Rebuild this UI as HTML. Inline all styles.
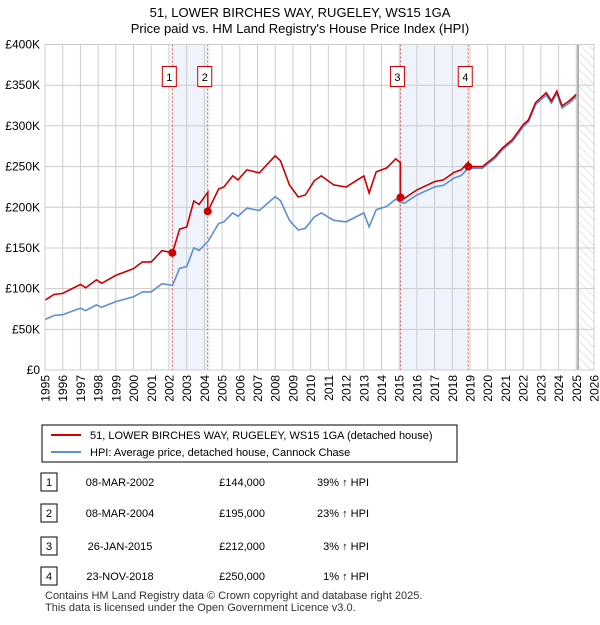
<!DOCTYPE html>
<html><head><meta charset="utf-8"><style>
body{margin:0;background:#fff;font-family:"Liberation Sans",sans-serif;}
#wrap{position:relative;width:600px;height:620px;}
</style></head><body><div id="wrap">
<svg id="svg" width="600" height="620" xmlns="http://www.w3.org/2000/svg" font-family="Liberation Sans, DejaVu Sans, sans-serif">
<defs><pattern id="hatch" width="6" height="6" patternUnits="userSpaceOnUse" patternTransform="rotate(-45)"><line x1="0" y1="0" x2="0" y2="6" stroke="#ccc" stroke-width="1"/></pattern></defs>
<text x="300" y="17" text-anchor="middle" font-size="13" fill="#000">51, LOWER BIRCHES WAY, RUGELEY, WS15 1GA</text>
<text x="300" y="33" text-anchor="middle" font-size="13" fill="#000">Price paid vs. HM Land Registry's House Price Index (HPI)</text>
<g id="plot"></g>
<g>
<rect x="42" y="425" width="415" height="37" fill="#fff" stroke="#000" stroke-width="1"/>
<line x1="51" y1="435" x2="81" y2="435" stroke="#cc0000" stroke-width="2"/>
<text x="90" y="439" font-size="11">51, LOWER BIRCHES WAY, RUGELEY, WS15 1GA (detached house)</text>
<line x1="51" y1="452" x2="81" y2="452" stroke="#5b8fd6" stroke-width="2"/>
<text x="90" y="456" font-size="11">HPI: Average price, detached house, Cannock Chase</text>
</g>
<g id="table" font-size="11"></g>
<text x="45" y="599" font-size="11" fill="#333">Contains HM Land Registry data © Crown copyright and database right 2025.</text>
<text x="45" y="611" font-size="11" fill="#333">This data is licensed under the Open Government Licence v3.0.</text>
</svg>
<script>
const hpiYears=[1995.0,1995.5,1996.0,1996.5,1997.0,1997.3,1997.9,1998.2,1999.0,2000.0,2000.5,2001.0,2001.6,2002.2,2002.6,2003.0,2003.4,2003.7,2004.2,2004.8,2005.1,2005.6,2005.9,2006.4,2007.1,2008.0,2008.3,2008.8,2009.3,2009.7,2010.2,2010.6,2011.3,2012.0,2013.0,2013.3,2013.7,2014.3,2014.8,2015.07,2015.3,2016.0,2017.0,2017.5,2018.1,2018.5,2018.9,2019.7,2020.4,2020.8,2021.4,2022.0,2022.3,2022.7,2023.3,2023.6,2023.9,2024.2,2024.6,2025.0];
const hpiValues=[62,67,68,72,76,73,80,77,84,90,96,96,106,104,125,127,150,147,158,180,182,193,189,199,196,213,208,184,172,174,188,193,184,182,193,176,197,201,210,206,205,215,225,227,236,239,248,248,260,270,281,299,305,326,338,328,340,322,328,336];
const saleYears=[2002.19,2004.19,2015.07,2018.9];
const salePrices=[144,195,212,250];
const saleDates=["08-MAR-2002","08-MAR-2004","26-JAN-2015","23-NOV-2018"];
const salePriceLabels=["£144,000","£195,000","£212,000","£250,000"];
const saleHpiLabels=["39% ↑ HPI","23% ↑ HPI","3% ↑ HPI","1% ↑ HPI"];
const yTicks=[0,50,100,150,200,250,300,350,400];
const yTickLabels=["£0","£50K","£100K","£150K","£200K","£250K","£300K","£350K","£400K"];
const xTicks=[];for(let y=1995;y<=2026;y++)xTicks.push(y);

const X0=45,X1=594,Y0=370,Y1=44.5;
const xs=t=>X0+(t-1995)/(2026-1995)*(X1-X0);
const ys=v=>Y0-v/400*(Y0-Y1);
const NS="http://www.w3.org/2000/svg";
const plot=document.getElementById('plot');
function mk(tag,attrs,parent){const e=document.createElementNS(NS,tag);for(const k in attrs)e.setAttribute(k,attrs[k]);(parent||plot).appendChild(e);return e;}
function hpiAt(t){for(let i=0;i<hpiYears.length-1;i++){if(t<=hpiYears[i+1]){const f=(t-hpiYears[i])/(hpiYears[i+1]-hpiYears[i]);return hpiValues[i]+f*(hpiValues[i+1]-hpiValues[i]);}}return hpiValues[hpiValues.length-1];}

for(let i=0;i<saleYears.length;i+=2){
 const b=mk('rect',{x:xs(saleYears[i]),y:Y1,width:xs(saleYears[i+1])-xs(saleYears[i]),height:Y0-Y1,fill:'#eef3fc'});
 
 
}
const hx=xs(2025.1);
const h=mk('rect',{x:hx,y:Y1,width:X1-hx,height:Y0-Y1,fill:'url(#hatch)'});


xTicks.forEach((t,i)=>{
 const g=mk('line',{x1:xs(t),x2:xs(t),y1:Y1,y2:Y0,stroke:'#ccc','stroke-width':1});
 
 
 const l=mk('text',{x:0,y:0,'text-anchor':'end','font-size':12,fill:'#000',transform:'translate('+(xs(t)+4.5).toFixed(1)+','+(Y0+5)+') rotate(-90)'});
 l.textContent=t;
 
 
});
yTicks.forEach((v,i)=>{
 const g=mk('line',{x1:X0,x2:X1,y1:ys(v),y2:ys(v),stroke:'#ccc','stroke-width':1});
 
 
 const l=mk('text',{x:40,y:ys(v)+4,'text-anchor':'end','font-size':12,fill:'#000'});
 l.textContent=yTickLabels[i];
 
 
});
const vl=mk('line',{x1:hx,x2:hx,y1:Y1,y2:Y0,stroke:'#999','stroke-width':1.5});


saleYears.forEach((t,i)=>{
 const d=mk('line',{x1:xs(t),x2:xs(t),y1:Y1,y2:Y0,stroke:'#e05050','stroke-width':1,'stroke-dasharray':'2,2'});
 
 
 const r=mk('rect',{x:xs(t)-10,y:66.5,width:14,height:20,fill:'#fff',stroke:'#cc0000','stroke-width':1});
 
 
 const tx=mk('text',{x:xs(t)-3,y:81,'text-anchor':'middle','font-size':11});
 tx.textContent=i+1;
 
 
});
let pts=hpiYears.map((t,i)=>xs(t).toFixed(1)+','+ys(hpiValues[i]).toFixed(1)).join(' ');
const hl=mk('polyline',{points:pts,fill:'none',stroke:'#5b8fd6','stroke-width':1.6});


let rp=[];
const times=hpiYears.concat(saleYears).sort((a,b)=>a-b);
times.forEach((t,k)=>{
 let si=0;for(let j=0;j<saleYears.length;j++)if(t>=saleYears[j])si=j;
 const v=salePrices[si]*hpiAt(t)/hpiAt(saleYears[si]);
 if(k>0&&saleYears.includes(t)&&si>0){const pv=salePrices[si-1]*hpiAt(t)/hpiAt(saleYears[si-1]);rp.push(xs(t).toFixed(1)+','+ys(pv).toFixed(1));}
 rp.push(xs(t).toFixed(1)+','+ys(v).toFixed(1));
});
const pl=mk('polyline',{points:rp.join(' '),fill:'none',stroke:'#cc0000','stroke-width':1.6});


saleYears.forEach((t,i)=>{
 const c=mk('circle',{cx:xs(t),cy:ys(salePrices[i]),r:4,fill:'#cc0000'});
 
 
});
const fr=mk('rect',{x:X0,y:Y1,width:X1-X0,height:Y0-Y1,fill:'none',stroke:'#ccc'});


const tb=document.getElementById('table');
const rowY=[483,514,547,577];
saleDates.forEach((d,i)=>{
 const y=rowY[i];
 const b=mk('rect',{x:41,y:y-10,width:16,height:18,fill:'#fff',stroke:'#000'},tb);
 
 
 const n=mk('text',{x:49,y:y+3,'text-anchor':'middle'},tb);n.textContent=i+1;
 
 
 const t1=mk('text',{x:120,y:y+3,'text-anchor':'middle'},tb);t1.textContent=d;
 
 
 const t2=mk('text',{x:265,y:y+3,'text-anchor':'end'},tb);t2.textContent=salePriceLabels[i];
 
 
 const t3=mk('text',{x:369,y:y+3,'text-anchor':'end'},tb);t3.textContent=saleHpiLabels[i];
 
 
});
</script></div></body></html>
